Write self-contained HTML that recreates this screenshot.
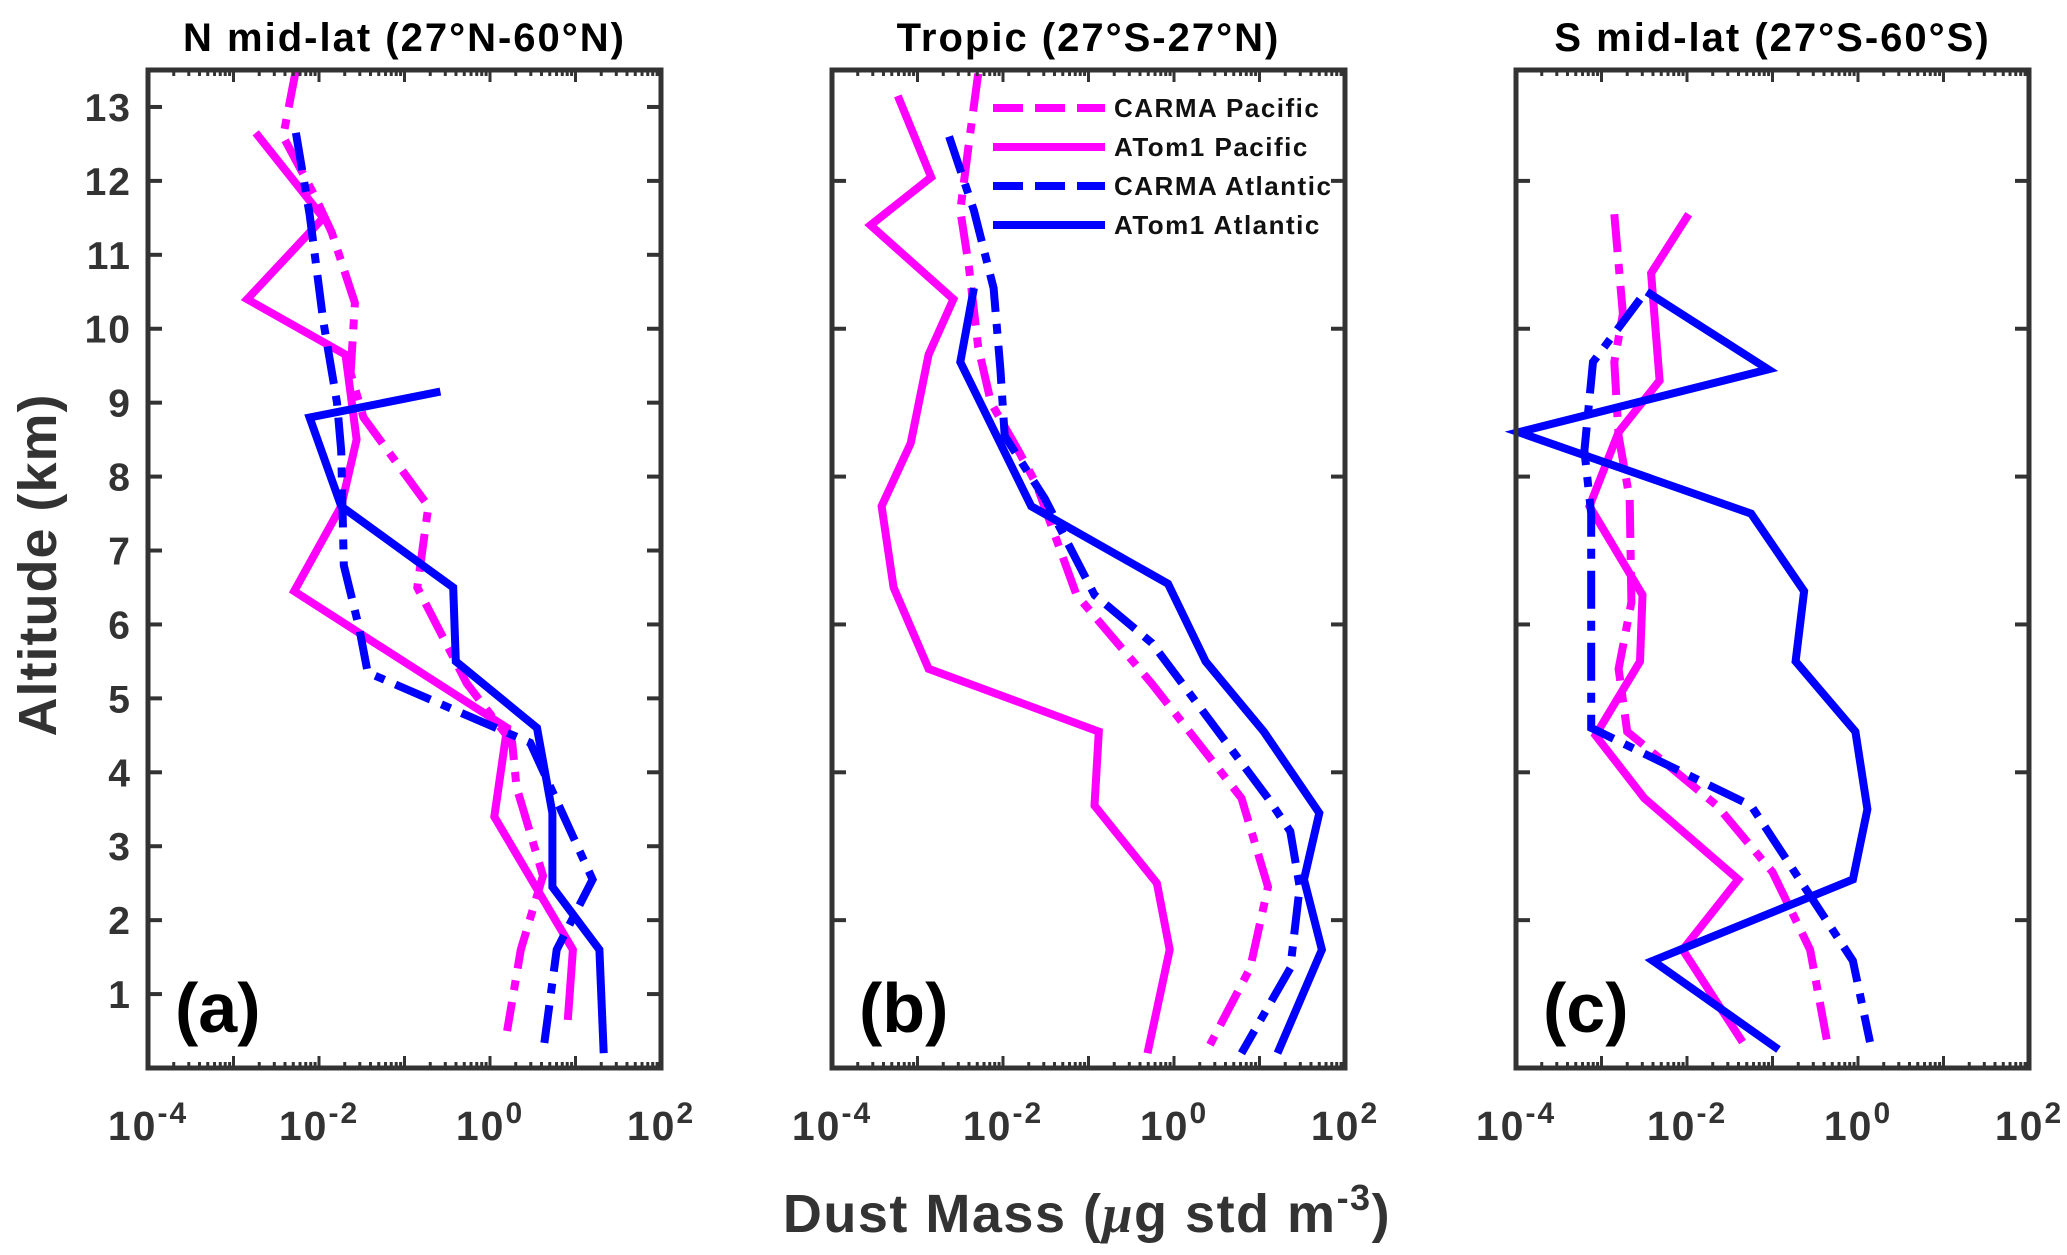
<!DOCTYPE html>
<html><head><meta charset="utf-8">
<style>
html,body{margin:0;padding:0;background:#fff;}
svg{display:block;font-family:"Liberation Sans",sans-serif;font-weight:bold;}
</style></head>
<body>
<svg id="fig" width="2067" height="1255" viewBox="0 0 2067 1255" xmlns="http://www.w3.org/2000/svg"></svg>
<script>
// ---- data (log10 of dust mass, altitude km) ----
const panelTitles = ["N mid-lat (27°N-60°N)", "Tropic (27°S-27°N)", "S mid-lat (27°S-60°S)"];
const panelLetters = ["(a)", "(b)", "(c)"];
const seriesNames = ["CARMA Pacific", "ATom1 Pacific", "CARMA Atlantic", "ATom1 Atlantic"];
const xTickExps = [-4, -2, 0, 2];

// Panel a
const aCarmaPacAlt = [13.5,12.6,11.8,11.3,10.35,9.4,8.8,7.6,6.5,5.2,4.4,3.8,2.6,1.6,0.5];
const aCarmaPacLog = [-2.27,-2.42,-2.05,-1.85,-1.58,-1.63,-1.48,-0.72,-0.85,-0.27,0.26,0.31,0.62,0.36,0.2];
const aAtomPacAlt = [12.65,11.5,10.4,9.65,8.5,7.6,6.45,4.6,3.4,1.6,0.65];
const aAtomPacLog = [-2.74,-1.95,-2.84,-1.69,-1.56,-1.74,-2.29,0.2,0.05,0.97,0.91];
const aCarmaAtlAlt = [12.65,11.55,10.1,9.0,8.35,6.8,5.95,5.35,4.4,2.55,1.6,0.2];
const aCarmaAtlLog = [-2.27,-2.11,-1.95,-1.79,-1.74,-1.71,-1.53,-1.43,0.47,1.2,0.78,0.62];
const aAtomAtlAlt = [9.15,8.8,7.6,6.5,5.5,4.6,3.45,2.45,1.6,0.2];
const aAtomAtlLog = [-0.58,-2.11,-1.74,-0.43,-0.4,0.55,0.73,0.73,1.28,1.33];

// Panel b
const bCarmaPacAlt = [13.45,12.5,11.6,10.85,9.75,9.0,8.35,7.9,6.4,5.2,3.65,2.45,1.35,0.2];
const bCarmaPacLog = [-2.29,-2.4,-2.5,-2.4,-2.29,-2.14,-1.82,-1.61,-1.14,-0.26,0.79,1.1,0.89,0.37];
const bAtomPacAlt = [13.15,12.05,11.4,10.4,9.65,8.45,7.6,6.5,5.4,4.55,3.55,2.5,1.6,0.2];
const bAtomPacLog = [-3.23,-2.84,-3.55,-2.58,-2.87,-3.08,-3.42,-3.28,-2.87,-0.88,-0.93,-0.2,-0.05,-0.31];
const bCarmaAtlAlt = [12.6,11.6,10.55,9.45,8.55,7.7,6.4,5.75,3.65,3.2,2.45,1.35,0.2];
const bCarmaAtlLog = [-2.63,-2.34,-2.11,-2.03,-1.98,-1.51,-0.93,-0.26,1.1,1.36,1.47,1.36,0.79];
const bAtomAtlAlt = [10.55,9.55,7.6,6.55,5.5,4.55,3.45,2.55,1.6,0.2];
const bAtomAtlLog = [-2.34,-2.5,-1.67,-0.07,0.37,1.05,1.7,1.52,1.73,1.21];

// Panel c
const cCarmaPacAlt = [11.55,10.2,9.55,8.55,7.7,6.3,5.4,4.55,3.55,2.65,1.6,0.35];
const cCarmaPacLog = [-2.85,-2.75,-2.85,-2.8,-2.67,-2.65,-2.8,-2.7,-1.65,-1.0,-0.56,-0.36];
const cAtomPacAlt = [11.55,10.75,9.3,8.6,7.6,6.4,5.5,4.5,3.65,2.55,1.6,0.35];
const cAtomPacLog = [-1.98,-2.42,-2.32,-2.8,-3.14,-2.52,-2.55,-3.07,-2.5,-1.4,-2.05,-1.35];
const cCarmaAtlAlt = [10.4,9.55,8.35,7.5,4.6,3.55,1.45,0.35];
const cCarmaAtlLog = [-2.55,-3.1,-3.2,-3.12,-3.12,-1.25,-0.06,0.14];
const cAtomAtlAlt = [10.5,9.45,8.6,7.5,6.45,5.5,4.55,3.5,2.55,1.45,0.25];
const cAtomAtlLog = [-2.47,-1.05,-3.97,-1.25,-0.63,-0.73,-0.03,0.11,-0.06,-2.4,-0.93];

const panelSeries = [
  [[aCarmaPacAlt,aCarmaPacLog],[aAtomPacAlt,aAtomPacLog],[aCarmaAtlAlt,aCarmaAtlLog],[aAtomAtlAlt,aAtomAtlLog]],
  [[bCarmaPacAlt,bCarmaPacLog],[bAtomPacAlt,bAtomPacLog],[bCarmaAtlAlt,bCarmaAtlLog],[bAtomAtlAlt,bAtomAtlLog]],
  [[cCarmaPacAlt,cCarmaPacLog],[cAtomPacAlt,cAtomPacLog],[cCarmaAtlAlt,cCarmaAtlLog],[cAtomAtlAlt,cAtomAtlLog]]
];

// ---- drawing ----
const NS = "http://www.w3.org/2000/svg";
const svg = document.getElementById("fig");
function mk(tag, attrs, parent){
  const e = document.createElementNS(NS, tag);
  for (const k in attrs) e.setAttribute(k, attrs[k]);
  (parent||svg).appendChild(e);
  return e;
}
const lefts = [148, 832, 1516];
const W = 513, TOP = 70, BOT = 1068;
const XMIN = -4, XMAX = 2, YMAX = 13.5;
const colors = ["#ff00ff","#ff00ff","#0000ff","#0000ff"];
const dashes = ["38 12 10 12", "none", "38 12 10 12", "none"];
const axisCol = "#333333";
const seriesKeys = ["carma-pacific","atom1-pacific","carma-atlantic","atom1-atlantic"];

panelTitles.forEach((title, p) => {
  const L = lefts[p], R = L + W;
  const sx = v => L + (v - XMIN) / (XMAX - XMIN) * W;
  const sy = a => BOT - a / YMAX * (BOT - TOP);
  const g = mk("g", {});
  
  

  panelSeries[p].forEach((s, i) => {
    const pts = s[0].map((a, k) => sx(s[1][k]).toFixed(1) + "," + sy(a).toFixed(1)).join(" ");
    const pl = mk("polyline", {points: pts, fill: "none", stroke: colors[i], "stroke-width": 8,
      "stroke-linejoin": "miter", "stroke-dasharray": dashes[i]}, g);
    
    
  });

  for (let d = XMIN; d <= XMAX; d++) {
    for (let m = 1; m <= 9; m++) {
      const v = d + Math.log10(m);
      if (v > XMAX + 1e-9) break;
      const x = sx(v), len = m === 1 ? 12 : 6;
      mk("line", {x1:x, y1:BOT, x2:x, y2:BOT-len, stroke:axisCol, "stroke-width":3}, g);
      mk("line", {x1:x, y1:TOP, x2:x, y2:TOP+len, stroke:axisCol, "stroke-width":3}, g);
    }
  }
  const yStep = p === 0 ? 1 : 2;
  for (let a = yStep; a <= 13; a += yStep) {
    const y = sy(a);
    mk("line", {x1:L, y1:y, x2:L+14, y2:y, stroke:axisCol, "stroke-width":4}, g);
    mk("line", {x1:R, y1:y, x2:R-14, y2:y, stroke:axisCol, "stroke-width":4}, g);
    if (p === 0) {
      const t = mk("text", {x: L-16, y: y+14, "text-anchor":"end", "font-size":39, "letter-spacing":2, fill:axisCol}, g);
      t.textContent = a;
      
      
    }
  }
  const box = mk("rect", {x:L, y:TOP, width:W, height:BOT-TOP, fill:"none", stroke:axisCol, "stroke-width":5}, g);
  
  

  xTickExps.forEach(e => {
    const t = mk("text", {x: sx(e), y: 1140, "text-anchor":"middle", "font-size":41, "letter-spacing":2, fill:axisCol}, g);
    t.textContent = "10";
    const sup = mk("tspan", {dy: -17, "font-size":30}, t);
    sup.textContent = String(e);
    
    
  });

  const tt = mk("text", {x: L + W/2, y: 51, "text-anchor":"middle", "font-size":40, "letter-spacing":2, fill:"#000"}, g);
  tt.textContent = title;
  
  

  const lt = mk("text", {x: L + 27, y: 1032, "font-size":70, fill:"#000"}, g);
  lt.textContent = panelLetters[p];
  
  
});

const yl = mk("text", {x: 0, y: 0, transform: "translate(56,565) rotate(-90)", "text-anchor":"middle", "font-size":54, "letter-spacing":1, fill:axisCol});
yl.textContent = "Altitude (km)";



const xl = mk("text", {x: 1087, y: 1232, "text-anchor":"middle", "font-size":54, "letter-spacing":1.5, fill:axisCol});
xl.appendChild(document.createTextNode("Dust Mass ("));
const mu = mk("tspan", {"font-style":"italic", "font-family":"Liberation Serif, serif"}, xl);
mu.textContent = "μ";
xl.appendChild(document.createTextNode("g std m"));
const ex = mk("tspan", {dy: -22, "font-size":36}, xl);
ex.textContent = "-3";
const cp = mk("tspan", {dy: 22}, xl);
cp.textContent = ")";



const lg = mk("g", {});


const legDash = ["30 12", "none", "30 12", "none"];
seriesNames.forEach((n, i) => {
  const y = 108 + i * 39;
  const ln = mk("line", {x1: 993, y1: y, x2: 1105, y2: y, stroke: colors[i], "stroke-width": 8, "stroke-dasharray": legDash[i]}, lg);
  
  
  const t = mk("text", {x: 1114, y: y + 9, "font-size": 26, "letter-spacing": 1.5, fill: "#111"}, lg);
  t.textContent = n;
  
  
});
</script>
</body></html>
